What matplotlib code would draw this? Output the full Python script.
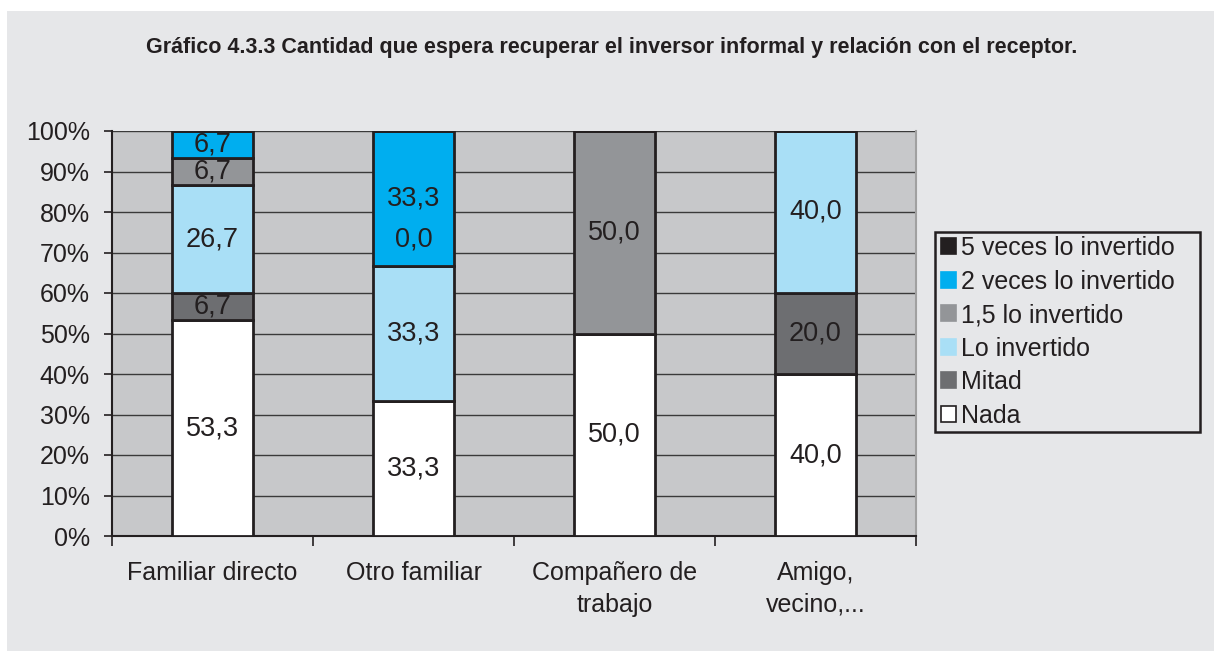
import matplotlib
matplotlib.use("Agg")
import matplotlib.pyplot as plt
import numpy as np
from matplotlib.patches import Patch, Rectangle

categories = ["Familiar directo", "Otro familiar", "Compañero de\ntrabajo", "Amigo,\nvecino,..."]
series_names = ["Nada", "Mitad", "Lo invertido", "1,5 lo invertido", "2 veces lo invertido", "5 veces lo invertido"]
nada = [53.3, 33.3, 50.0, 40.0]
mitad = [6.7, np.nan, np.nan, 20.0]
lo_invertido = [26.7, 33.3, np.nan, 40.0]
uno_cinco = [6.7, 0.0, 50.0, np.nan]
dos_veces = [6.7, 33.3, np.nan, np.nan]
cinco_veces = [np.nan, np.nan, np.nan, np.nan]
yticks = [0, 10, 20, 30, 40, 50, 60, 70, 80, 90, 100]
title = "Gráfico 4.3.3 Cantidad que espera recuperar el inversor informal y relación con el receptor."

colors = ["#ffffff", "#6d6e71", "#a9dff6", "#939598", "#00aeef", "#231f20"]
edge = "#231f20"
series = [nada, mitad, lo_invertido, uno_cinco, dos_veces, cinco_veces]

font = "Liberation Sans"
fig = plt.figure(figsize=(12.14, 6.51), dpi=100)
fig.patch.set_facecolor("white")
# grey panel
fig.patches.append(Rectangle((7/1214, 0), 1 - 7/1214, 1 - 11/651,
                   transform=fig.transFigure, facecolor="#e6e7e9", edgecolor="none", zorder=-10))

ax = fig.add_axes([112/1214, 1 - 536/651, 804/1214, 405/651])
ax.set_facecolor("#c7c8ca")

data = np.array(series, dtype=float)
totals = np.nansum(data, axis=0)
x = np.arange(len(categories))
bottom = np.zeros(len(categories))
for vals, col in zip(data, colors):
    h = np.nan_to_num(vals) / totals * 100
    ax.bar(x, h, bottom=bottom, width=0.4, color=col, edgecolor=edge, linewidth=2.0, zorder=3)
    for i, v in enumerate(vals):
        if np.isnan(v):
            continue
        yc = bottom[i] + h[i] / 2 if v > 0 else bottom[i] + 6.5
        ax.text(x[i], yc, f"{v:.1f}".replace(".", ","), ha="center", va="center",
                fontsize=19.5, color="#231f20", family=font, zorder=5)
    bottom = bottom + h

ax.set_xlim(-0.5, 3.5)
ax.set_ylim(0, 100)
ax.set_yticks(yticks)
ax.set_yticklabels([f"{t}%" for t in yticks], family=font, fontsize=18, color="#231f20")
ax.yaxis.grid(True, color="#3a3a3a", linewidth=1.0, zorder=1)
ax.set_axisbelow(True)
ax.tick_params(axis="y", length=6, width=1.2, color="#231f20", pad=10, direction="out")

ax.set_xticks(np.arange(-0.5, 4, 1))
ax.set_xticklabels([])
ax.set_xticks(x, minor=True)
ax.set_xticklabels(categories, minor=True, family=font, fontsize=18, color="#231f20", linespacing=1.4)
ax.tick_params(axis="x", which="major", length=7, width=1.2, color="#231f20", direction="out")
ax.tick_params(axis="x", which="minor", length=0, pad=18)

for s in ["left", "bottom"]:
    ax.spines[s].set_color("#231f20")
    ax.spines[s].set_linewidth(1.5)
ax.spines["top"].set_visible(False)
ax.spines["right"].set_color("#a0a0a0")
ax.spines["right"].set_linewidth(1.5)

# legend frame
fig.patches.append(Rectangle((935/1214, 1 - 432/651), 265/1214, 200/651,
                   transform=fig.transFigure, facecolor="#e6e7e9", edgecolor="#231f20",
                   linewidth=1.8, zorder=1))
handles = [Patch(facecolor=c, edgecolor=(edge if c == "#ffffff" else c), linewidth=1.2, label=n)
           for n, c in zip(series_names, colors)][::-1]
leg = fig.legend(handles=handles, loc="upper left", bbox_to_anchor=(941/1214, 1 - 236/651),
                 prop={"family": font, "size": 18}, frameon=False,
                 handlelength=0.6, handleheight=0.6, handletextpad=0.2, labelspacing=0.38,
                 borderpad=0.0, borderaxespad=0, labelcolor="#231f20")
leg.set_zorder(2)

fig.text(612/1214, 1 - 48/651, title, ha="center", va="center", fontsize=15.5,
         fontweight="bold", family=font, color="#231f20")

fig.savefig("out.png", dpi=100)
